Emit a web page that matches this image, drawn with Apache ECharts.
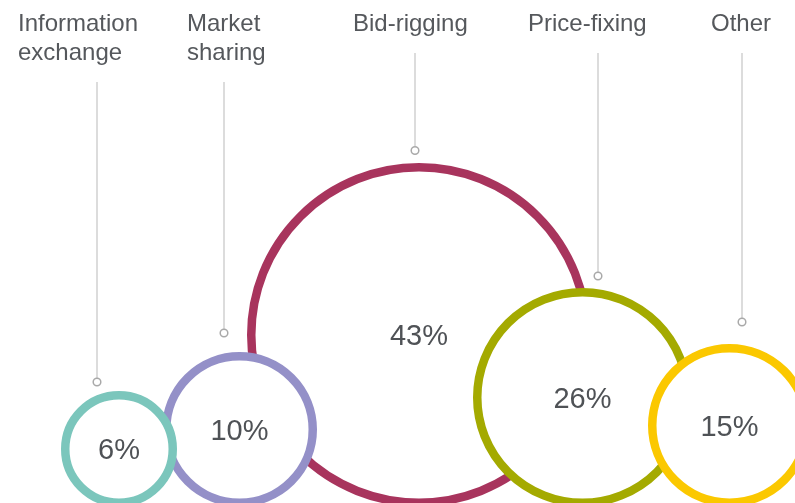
<!DOCTYPE html>
<html>
<head>
<meta charset="utf-8">
<script src="https://cdn.jsdelivr.net/npm/echarts@6/dist/echarts.min.js"></script>
<style>
  html, body { margin: 0; padding: 0; background: #ffffff; }
  #chart { width: 795px; height: 503px; }
</style>
</head>
<body>
<div id="chart"></div>
<script>
// Share of cartel cases by type of conduct
const categories = ['Information\nexchange', 'Market\nsharing', 'Bid-rigging', 'Price-fixing', 'Other'];
const shares = [6, 10, 43, 26, 15];

// Layout of the rings (axis units = pixels, y measured up from the common baseline)
const bubbleX = [119, 239.5, 419, 582.5, 729.5];
const bubbleR = [58, 77.5, 172, 109.5, 81.5];
const ringColors = ['#7bc6bc', '#9490c8', '#a8345d', '#a4aa00', '#fbc800'];
const ringWidth = 8.5;

// Callout pins and label anchors
const pinX = [97, 224, 415, 598, 742];
const pinY = [125, 174, 356.5, 231, 185];
const labelX = [18, 187, 353, 528, 711];

const FONT = '"Liberation Sans", Arial, Helvetica, sans-serif';

// Bigger rings first so the smaller ones sit on top
const order = shares.map((_, i) => i).sort((a, b) => shares[b] - shares[a]);

const bubbleData = order.map(i => ({
  value: [bubbleX[i], bubbleR[i], shares[i]],
  symbolSize: 2 * bubbleR[i] - ringWidth,
  itemStyle: { color: '#ffffff', borderColor: ringColors[i], borderWidth: ringWidth, opacity: 1 }
}));

const calloutData = categories.map((c, i) => [pinX[i], pinY[i], labelX[i], i]);

const LINE_H = 29;
const TEXT_TOP = 10;

const chart = echarts.init(document.getElementById('chart'), null, { renderer: 'canvas' });
chart.setOption({
  animation: false,
  backgroundColor: '#ffffff',
  grid: { left: 0, right: 0, top: 0, bottom: 0 },
  xAxis: { type: 'value', min: 0, max: 795, interval: 795, show: false },
  // the baseline the rings rest on (y = 0) lies 4px below the canvas edge
  yAxis: { type: 'value', min: 4, max: 507, interval: 1, show: false },
  series: [
    {
      type: 'scatter',
      symbol: 'circle',
      data: bubbleData,
      clip: false,
      silent: true,
      itemStyle: { opacity: 1 },
      label: {
        show: true,
        position: 'inside',
        offset: [0, 2],
        formatter: p => p.data.value[2] + '%',
        fontFamily: FONT,
        fontSize: 29,
        color: '#4f5256'
      },
      emphasis: { disabled: true }
    },
    {
      type: 'custom',
      data: calloutData,
      silent: true,
      clip: false,
      renderItem: (params, api) => {
        const idx = api.value(3);
        const pin = api.coord([api.value(0), api.value(1)]);
        const textLeft = api.coord([api.value(2), 0])[0];
        const text = categories[idx];
        const lines = text.split('\n').length;
        const lineTop = TEXT_TOP + lines * LINE_H + 14;
        return {
          type: 'group',
          children: [
            {
              type: 'text',
              style: {
                text: text,
                x: textLeft,
                y: TEXT_TOP,
                align: 'left',
                verticalAlign: 'top',
                lineHeight: LINE_H,
                font: '24px ' + FONT,
                fill: '#55585c'
              }
            },
            {
              type: 'line',
              shape: { x1: pin[0], y1: lineTop, x2: pin[0], y2: pin[1] - 4 },
              style: { stroke: '#b9b9b9', lineWidth: 1 }
            },
            {
              type: 'circle',
              shape: { cx: pin[0], cy: pin[1], r: 3.8 },
              style: { fill: '#ffffff', stroke: '#a9a9a9', lineWidth: 1.5 }
            }
          ]
        };
      }
    }
  ]
});
</script>
</body>
</html>
